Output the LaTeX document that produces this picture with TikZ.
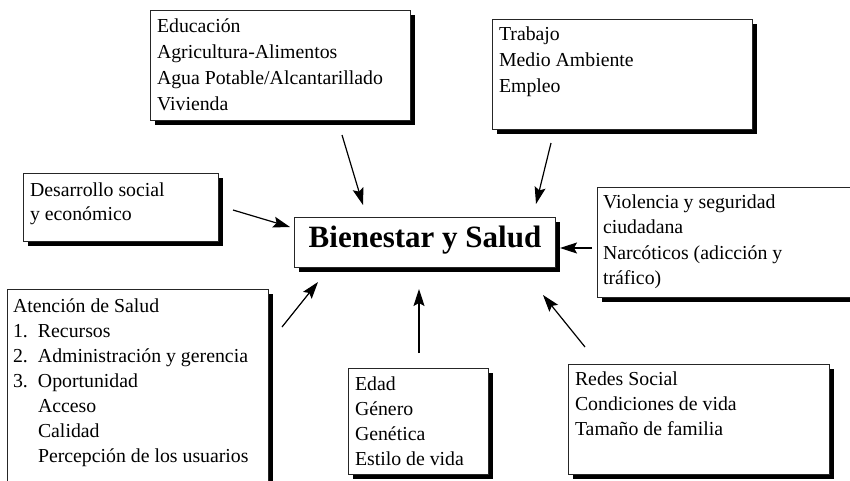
\documentclass[tikz,border=0pt]{standalone}
\usepackage{fontspec}
\setmainfont{Liberation Serif}
\usetikzlibrary{arrows.meta,shadows}
\begin{document}
\begin{tikzpicture}[x=1pt,y=-1pt,
  panel/.style={draw=black!85, line width=0.9pt, fill=white, anchor=north west,
    inner sep=0pt, outer sep=0pt,
    drop shadow={shadow xshift=5pt, shadow yshift=-5pt, fill=black, opacity=1}},
  txt/.style={anchor=base west, inner sep=0pt, outer sep=0pt},
  arr/.style={line width=1.2pt, -{Stealth[length=17pt,width=11pt,inset=3pt]}}
]
\clip (0,0) rectangle (850,480);
\fill[white] (0,0) rectangle (850,480);
\newcommand{\lines}[2]{\parbox[t]{320pt}{\fontsize{19.8}{#1}\selectfont #2}}

% boxes
\node[panel, minimum width=260pt, minimum height=110pt] (edu) at (150,10) {};
\node[panel, minimum width=260pt, minimum height=110pt] (trab) at (492,19) {};
\node[panel, minimum width=195pt, minimum height=68pt] (desa) at (23,173) {};
\node[panel, minimum width=261pt, minimum height=50pt] (bien) at (294,217) {};
\node[panel, minimum width=270pt, minimum height=110pt] (viol) at (597,187) {};
\node[panel, minimum width=261pt, minimum height=210pt] (aten) at (7,289) {};
\node[panel, minimum width=140pt, minimum height=106pt] (edad) at (348,368) {};
\node[panel, minimum width=261pt, minimum height=110pt] (rede) at (568,364) {};

% texts
\node[txt] (edu-t) at (157,32) {\lines{26pt}{Educación\\Agricultura-Alimentos\\Agua Potable/Alcantarillado\\Vivienda}};
\node[txt] (trab-t) at (499,40) {\lines{26pt}{Trabajo\\Medio Ambiente\\Empleo}};
\node[txt] (desa-t) at (30,196) {\lines{24pt}{Desarrollo social\\y económico}};
\node[anchor=base, inner sep=0pt] (bien-t) at (425,247) {\fontsize{31}{36}\selectfont\bfseries Bienestar y Salud};
\node[txt] (viol-t) at (603,208) {\lines{25.5pt}{Violencia y seguridad\\ciudadana\\Narcóticos (adicción y\\tráfico)}};
\node[txt] (aten-t) at (13,312) {\lines{25pt}{Atención de Salud\\\makebox[25pt][l]{1.}Recursos\\\makebox[25pt][l]{2.}Administración y gerencia\\\makebox[25pt][l]{3.}Oportunidad\\\hspace*{25pt}Acceso\\\hspace*{25pt}Calidad\\\hspace*{25pt}Percepción de los usuarios}};
\node[txt] (edad-t) at (355,390) {\lines{25pt}{Edad\\Género\\Genética\\Estilo de vida}};
\node[txt] (rede-t) at (575,385) {\lines{25pt}{Redes Social\\Condiciones de vida\\Tamaño de familia}};

% arrow ends
\coordinate (a1s) at (342,135); \coordinate (a1e) at (363,205);
\coordinate (a2s) at (551,143); \coordinate (a2e) at (536,204);
\coordinate (a3s) at (233,210); \coordinate (a3e) at (290,227);
\coordinate (a4s) at (592,248); \coordinate (a4e) at (560,248);
\coordinate (a5s) at (282,327); \coordinate (a5e) at (318,282);
\coordinate (a6s) at (419,353); \coordinate (a6e) at (419,289);
\coordinate (a7s) at (585,347); \coordinate (a7e) at (543,295);

\draw[arr] (a1s) -- (a1e);
\draw[arr] (a2s) -- (a2e);
\draw[arr] (a3s) -- (a3e);
\draw[arr] (a4s) -- (a4e);
\draw[arr] (a5s) -- (a5e);
\draw[arr] (a6s) -- (a6e);
\draw[arr] (a7s) -- (a7e);
\end{tikzpicture}
\end{document}
